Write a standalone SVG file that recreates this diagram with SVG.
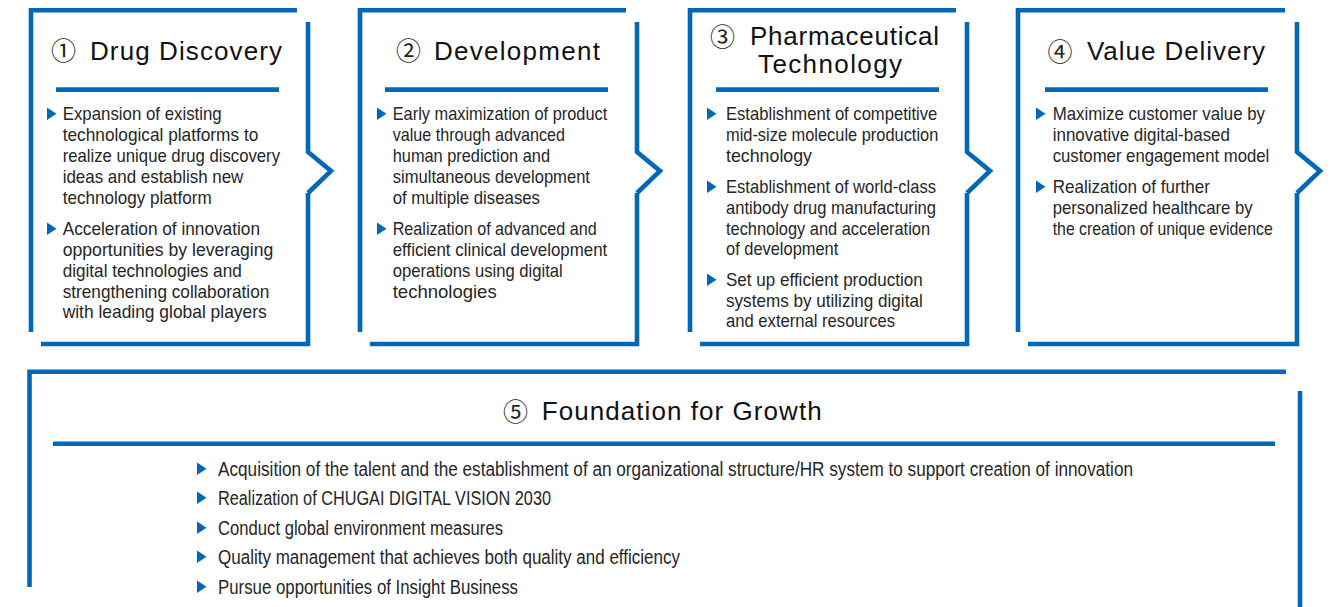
<svg xmlns="http://www.w3.org/2000/svg" xmlns:xlink="http://www.w3.org/1999/xlink" width="1332" height="607" viewBox="0 0 1332 607">
<style>
.ln{fill:none;stroke:#0068b7;stroke-width:4.6;stroke-linejoin:miter;stroke-linecap:butt}
.ttl{font-family:"Liberation Sans",Arial,sans-serif;font-size:26px;fill:#111}
.num{font-family:"Noto Sans CJK JP","DejaVu Sans",sans-serif;font-size:25px;fill:#222;text-anchor:middle}
.tx{font-family:"Liberation Sans",Arial,sans-serif;font-size:18.6px;fill:#262626}
.tb{font-family:"Liberation Sans",Arial,sans-serif;font-size:19.4px;fill:#262626}
.bl{fill:#0068b7}
</style>
<defs>
<path id="tri" d="M0,0 L9.5,6.25 L0,12.5 Z"/>
</defs>
<rect width="1332" height="607" fill="#fff"/>

<g id="connectors">
<path class="ln" d="M308,22 V152 L331,171 L308,193"/>
<path class="ln" d="M637,22 V152 L660,171 L637,193"/>
<path class="ln" d="M967,22 V152 L990,171 L967,193"/>
<path class="ln" d="M1297,22 V152 L1320,171 L1297,193"/>
</g>

<g id="node1">
<path class="ln" d="M31,332 V10.3 H297"/>
<path class="ln" d="M308,193 V344 H41"/>
<line class="ln" x1="56" y1="89.6" x2="279" y2="89.6"/>
<text class="num" x="63.5" y="60">①</text>
<text class="ttl" x="90" y="59.5" textLength="192" lengthAdjust="spacing">Drug Discovery</text>
<use href="#tri" class="bl" x="47" y="107.5"/>
<use href="#tri" class="bl" x="47" y="222.5"/>
<text class="tx" x="62.7" y="120" textLength="159" lengthAdjust="spacingAndGlyphs">Expansion of existing</text>
<text class="tx" x="62.7" y="141" textLength="195.6" lengthAdjust="spacingAndGlyphs">technological platforms to</text>
<text class="tx" x="62.7" y="162" textLength="217.3" lengthAdjust="spacingAndGlyphs">realize unique drug discovery</text>
<text class="tx" x="62.7" y="183" textLength="180.6" lengthAdjust="spacingAndGlyphs">ideas and establish new</text>
<text class="tx" x="62.7" y="204" textLength="149" lengthAdjust="spacingAndGlyphs">technology platform</text>
<text class="tx" x="62.7" y="235" textLength="197.3" lengthAdjust="spacingAndGlyphs">Acceleration of innovation</text>
<text class="tx" x="62.7" y="256" textLength="210.6" lengthAdjust="spacingAndGlyphs">opportunities by leveraging</text>
<text class="tx" x="62.7" y="277" textLength="179" lengthAdjust="spacingAndGlyphs">digital technologies and</text>
<text class="tx" x="62.7" y="297.5" textLength="206.6" lengthAdjust="spacingAndGlyphs">strengthening collaboration</text>
<text class="tx" x="62.7" y="318" textLength="204" lengthAdjust="spacingAndGlyphs">with leading global players</text>
</g>

<g id="node2">
<path class="ln" d="M360,332 V10.3 H626"/>
<path class="ln" d="M637,193 V344 H370"/>
<line class="ln" x1="385" y1="89.6" x2="608" y2="89.6"/>
<text class="num" x="408.5" y="60">②</text>
<text class="ttl" x="434" y="59.5" textLength="166" lengthAdjust="spacing">Development</text>
<use href="#tri" class="bl" x="377" y="107.5"/>
<use href="#tri" class="bl" x="377" y="222.5"/>
<text class="tx" x="392.7" y="120" textLength="214.6" lengthAdjust="spacingAndGlyphs">Early maximization of product</text>
<text class="tx" x="392.7" y="141" textLength="172.3" lengthAdjust="spacingAndGlyphs">value through advanced</text>
<text class="tx" x="392.7" y="162" textLength="157.3" lengthAdjust="spacingAndGlyphs">human prediction and</text>
<text class="tx" x="392.7" y="183" textLength="197.3" lengthAdjust="spacingAndGlyphs">simultaneous development</text>
<text class="tx" x="392.7" y="204" textLength="147.3" lengthAdjust="spacingAndGlyphs">of multiple diseases</text>
<text class="tx" x="392.7" y="235" textLength="204" lengthAdjust="spacingAndGlyphs">Realization of advanced and</text>
<text class="tx" x="392.7" y="256" textLength="214.6" lengthAdjust="spacingAndGlyphs">efficient clinical development</text>
<text class="tx" x="392.7" y="277" textLength="170" lengthAdjust="spacingAndGlyphs">operations using digital</text>
<text class="tx" x="392.7" y="297.5" textLength="104" lengthAdjust="spacingAndGlyphs">technologies</text>
</g>

<g id="node3">
<path class="ln" d="M690,332 V10.3 H956"/>
<path class="ln" d="M967,193 V344 H700"/>
<line class="ln" x1="716" y1="89.6" x2="939" y2="89.6"/>
<text class="num" x="722.5" y="45.5">③</text>
<text class="ttl" x="750" y="45" textLength="189" lengthAdjust="spacing">Pharmaceutical</text>
<text class="ttl" x="758" y="73" textLength="144" lengthAdjust="spacing">Technology</text>
<use href="#tri" class="bl" x="707" y="107.5"/>
<use href="#tri" class="bl" x="707" y="180.5"/>
<use href="#tri" class="bl" x="707" y="273.5"/>
<text class="tx" x="726" y="120" textLength="211.3" lengthAdjust="spacingAndGlyphs">Establishment of competitive</text>
<text class="tx" x="726" y="141" textLength="212.3" lengthAdjust="spacingAndGlyphs">mid-size molecule production</text>
<text class="tx" x="726" y="162" textLength="86" lengthAdjust="spacingAndGlyphs">technology</text>
<text class="tx" x="726" y="193" textLength="210" lengthAdjust="spacingAndGlyphs">Establishment of world-class</text>
<text class="tx" x="726" y="214" textLength="210" lengthAdjust="spacingAndGlyphs">antibody drug manufacturing</text>
<text class="tx" x="726" y="235" textLength="204" lengthAdjust="spacingAndGlyphs">technology and acceleration</text>
<text class="tx" x="726" y="255" textLength="112.3" lengthAdjust="spacingAndGlyphs">of development</text>
<text class="tx" x="726" y="286" textLength="196.7" lengthAdjust="spacingAndGlyphs">Set up efficient production</text>
<text class="tx" x="726" y="307" textLength="196.7" lengthAdjust="spacingAndGlyphs">systems by utilizing digital</text>
<text class="tx" x="726" y="327" textLength="169" lengthAdjust="spacingAndGlyphs">and external resources</text>
</g>

<g id="node4">
<path class="ln" d="M1018,332 V10.3 H1285"/>
<path class="ln" d="M1297,193 V344 H1028"/>
<line class="ln" x1="1045" y1="89.6" x2="1268" y2="89.6"/>
<text class="num" x="1060" y="60.5">④</text>
<text class="ttl" x="1087" y="60" textLength="178" lengthAdjust="spacing">Value Delivery</text>
<use href="#tri" class="bl" x="1036" y="107.5"/>
<use href="#tri" class="bl" x="1036" y="180.5"/>
<text class="tx" x="1052.7" y="120" textLength="212.3" lengthAdjust="spacingAndGlyphs">Maximize customer value by</text>
<text class="tx" x="1052.7" y="141" textLength="177.3" lengthAdjust="spacingAndGlyphs">innovative digital-based</text>
<text class="tx" x="1052.7" y="162" textLength="216.6" lengthAdjust="spacingAndGlyphs">customer engagement model</text>
<text class="tx" x="1052.7" y="193" textLength="157.3" lengthAdjust="spacingAndGlyphs">Realization of further</text>
<text class="tx" x="1052.7" y="214" textLength="200" lengthAdjust="spacingAndGlyphs">personalized healthcare by</text>
<text class="tx" x="1052.7" y="235" textLength="220" lengthAdjust="spacingAndGlyphs">the creation of unique evidence</text>
</g>

<g id="node5">
<path class="ln" d="M29.5,587 V371.8 H1286"/>
<path class="ln" d="M1300,391 V607"/>
<line class="ln" x1="53" y1="443.8" x2="1275" y2="443.8"/>
<text class="num" x="515.5" y="420.5">⑤</text>
<text class="ttl" x="541.7" y="420" textLength="280" lengthAdjust="spacing">Foundation for Growth</text>
<use href="#tri" class="bl" x="197" y="462.5"/>
<use href="#tri" class="bl" x="197" y="491.5"/>
<use href="#tri" class="bl" x="197" y="521.5"/>
<use href="#tri" class="bl" x="197" y="550.5"/>
<use href="#tri" class="bl" x="197" y="580.5"/>
<text class="tb" x="218" y="476" textLength="915" lengthAdjust="spacingAndGlyphs">Acquisition of the talent and the establishment of an organizational structure/HR system to support creation of innovation</text>
<text class="tb" x="218" y="505" textLength="333" lengthAdjust="spacingAndGlyphs">Realization of CHUGAI DIGITAL VISION 2030</text>
<text class="tb" x="218" y="535" textLength="285" lengthAdjust="spacingAndGlyphs">Conduct global environment measures</text>
<text class="tb" x="218" y="564" textLength="462" lengthAdjust="spacingAndGlyphs">Quality management that achieves both quality and efficiency</text>
<text class="tb" x="218" y="594" textLength="300" lengthAdjust="spacingAndGlyphs">Pursue opportunities of Insight Business</text>
</g>
</svg>
